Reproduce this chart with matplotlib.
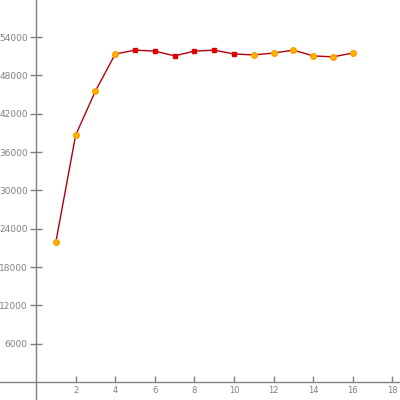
import matplotlib
matplotlib.use('Agg')
import matplotlib.pyplot as plt
import matplotlib.ticker as ticker

# values
x = [1, 2, 3, 4, 5, 6, 7, 8, 9, 10, 11, 12, 13, 14, 15, 16]
y = [21900, 38650, 45550, 51350, 51950, 51800, 51050, 51800, 51950, 51350,
     51200, 51500, 51950, 51050, 50900, 51500]
red_idx = [4, 5, 6, 7, 8, 9]   # points drawn as red squares
x_ticks = [2, 4, 6, 8, 10, 12, 14, 16, 18]
y_ticks = [6000, 12000, 18000, 24000, 30000, 36000, 42000, 48000, 54000]

grey = '#808080'

fig = plt.figure(figsize=(4, 4), dpi=100)
ax = fig.add_axes([0, 0, 1, 1])

ax.plot(x, y, color='#b00010', lw=1, zorder=2)
orange = [i for i in range(len(x)) if i not in red_idx]
ax.plot([x[i] for i in orange], [y[i] for i in orange], 'o', ls='none',
        color='#ffb400', ms=4, mec='#f5a000', zorder=3)
ax.plot([x[i] for i in red_idx], [y[i] for i in red_idx], 's', ls='none',
        color='#e00000', ms=3.5, zorder=3)

ax.set_xlim(-1.82, 18.38)
ax.set_ylim(-2820, 59800)

for s in ['top', 'right']:
    ax.spines[s].set_visible(False)
ax.spines['left'].set_position(('data', 0))
ax.spines['bottom'].set_position(('data', 0))
for s in ['left', 'bottom']:
    ax.spines[s].set_color(grey)
    ax.spines[s].set_linewidth(1)

ax.xaxis.set_major_locator(ticker.FixedLocator(x_ticks))
ax.yaxis.set_major_locator(ticker.FixedLocator(y_ticks))
ax.tick_params(axis='x', direction='in', length=4, width=1, color=grey,
               labelcolor=grey, labelsize=6, pad=3)
ax.tick_params(axis='y', direction='inout', length=8, width=1, color=grey,
               labelcolor=grey, labelsize=6.5, pad=2)

fig.savefig('out.png', dpi=100)
